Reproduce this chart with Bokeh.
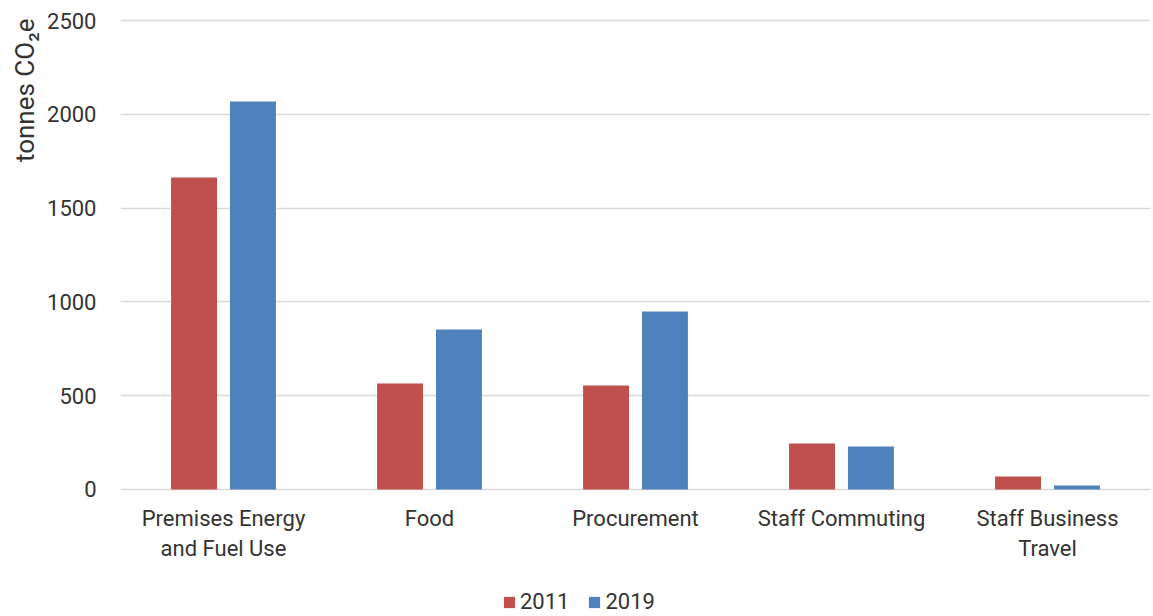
from bokeh.plotting import figure
from bokeh.layouts import column
from bokeh.models import FactorRange, Range1d, ColumnDataSource, Legend, LegendItem, SingleIntervalTicker, Title
from bokeh.transform import dodge
from bokeh.embed import file_html
from bokeh.resources import INLINE

categories = ["Premises Energy\nand Fuel Use", "Food", "Procurement", "Staff Commuting", "Staff Business\nTravel"]
values_2011 = [1663, 565, 554, 245, 69]
values_2019 = [2068, 853, 949, 229, 21]
series_names = ["2011", "2019"]
colors = ["#c0504d", "#4f81bd"]
y_label = "tonnes CO₂e"

FONT = "Roboto"
TXT = "#333333"

src = ColumnDataSource(dict(cat=categories, v2011=values_2011, v2019=values_2019))

p = figure(width=1153, height=570, output_backend="svg", toolbar_location=None,
           x_range=FactorRange(*categories, range_padding=0),
           y_range=Range1d(-10.7, 2510.7),
           min_border_left=120, min_border_right=3, min_border_top=18, min_border_bottom=79)
p.outline_line_color = None

r1 = p.vbar(x=dodge("cat", -0.143, range=p.x_range), top="v2011", width=0.223, source=src,
            fill_color=colors[0], line_color=None)
r2 = p.vbar(x=dodge("cat", 0.143, range=p.x_range), top="v2019", width=0.223, source=src,
            fill_color=colors[1], line_color=None)

p.yaxis.ticker = SingleIntervalTicker(interval=500)
p.ygrid.grid_line_color = "#d9d9d9"
p.ygrid.grid_line_width = 1.5
p.xgrid.grid_line_color = None

for ax in (p.xaxis[0], p.yaxis[0]):
    ax.axis_line_color = None
    ax.major_tick_line_color = None
    ax.minor_tick_line_color = None
    ax.major_tick_out = 0
    ax.major_label_text_font = FONT
    ax.major_label_text_font_size = "22px"
    ax.major_label_text_color = TXT

p.yaxis.major_label_standoff = 20
p.xaxis.major_label_standoff = 14

p.add_layout(Title(text=y_label, align="right", text_font=FONT, text_font_size="26px",
                   text_font_style="normal", text_color=TXT, offset=0), "left")

# legend in a small strip below the chart (key renderers sit outside the strip's visible range)
lg = figure(width=1153, height=46, output_backend="svg", toolbar_location=None,
            x_range=Range1d(0, 1), y_range=Range1d(0, 1),
            min_border=0, min_border_left=0, min_border_right=0, min_border_top=0, min_border_bottom=0)
lg.axis.visible = False
lg.grid.visible = False
lg.outline_line_color = None
key_src = ColumnDataSource(dict(x=[5], top=[0]))
k1 = lg.vbar(x="x", top="top", width=0.1, source=key_src, fill_color=colors[0], line_color=None)
k2 = lg.vbar(x="x", top="top", width=0.1, source=key_src, fill_color=colors[1], line_color=None)

legend = Legend(items=[LegendItem(label=series_names[0], renderers=[k1]),
                       LegendItem(label=series_names[1], renderers=[k2])],
                orientation="horizontal", location=(382, 2),
                label_text_font=FONT, label_text_font_size="22px", label_text_color=TXT,
                glyph_width=14, glyph_height=14, label_standoff=4, spacing=18,
                padding=0, margin=0, border_line_color=None, background_fill_alpha=0)
lg.add_layout(legend, "center")

layout = column(p, lg, spacing=0)
open("out.html", "w").write(file_html(layout, INLINE))
